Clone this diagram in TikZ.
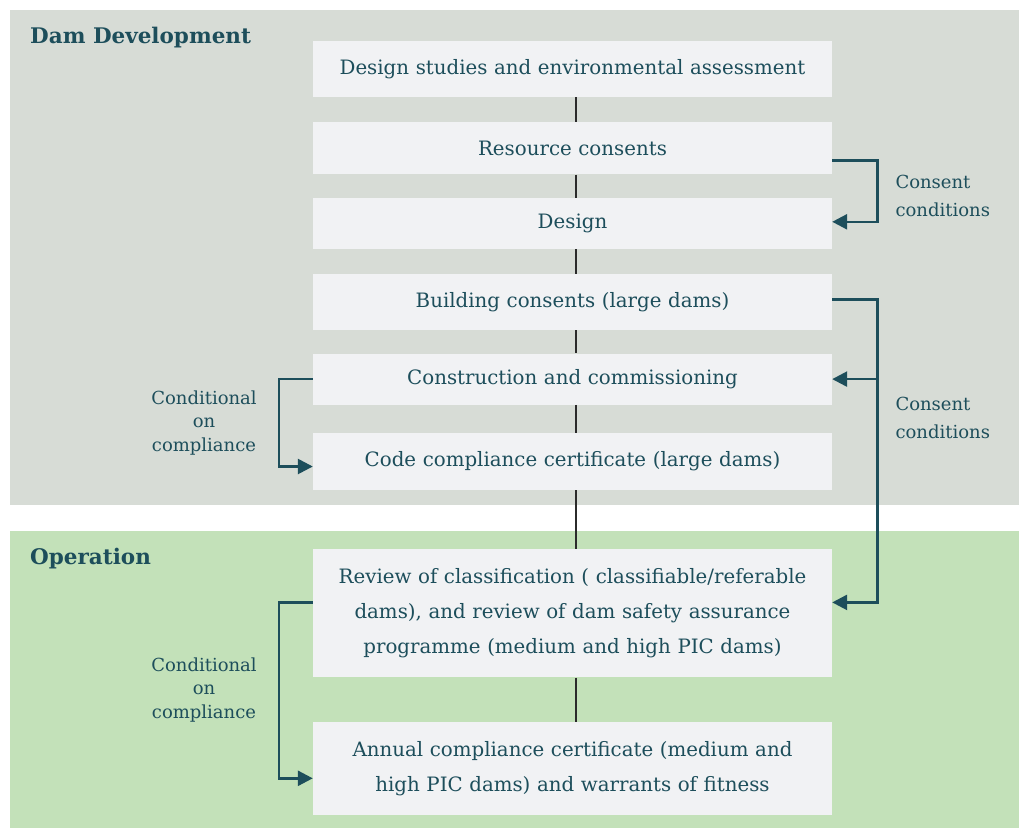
\documentclass[tikz,border=0pt]{standalone}
\usepackage{fontspec}
\setmainfont{DejaVu Serif}
\usetikzlibrary{positioning, arrows.meta, calc}
\definecolor{panelGrey}{HTML}{D7DCD6}
\definecolor{panelGreen}{HTML}{C3E1B9}
\definecolor{boxFill}{HTML}{F1F2F4}
\definecolor{inkTeal}{HTML}{1D4E5B}
\definecolor{stemGrey}{HTML}{2B2B2B}
\tikzstyle{arrow} = [line width=2.6pt, draw=inkTeal, ->, >={Triangle[length=15pt,width=15pt]}]
\tikzstyle{stem} = [line width=2pt, draw=stemGrey]
\tikzstyle{stage} = [rectangle, fill=boxFill, minimum width=519pt, text width=515pt, inner sep=0pt, align=center, text=inkTeal, font=\fontsize{19.8}{35}\selectfont]
\tikzstyle{sidenote} = [text=inkTeal, align=center, font=\fontsize{18}{23.5}\selectfont]
\tikzstyle{rightnote} = [text=inkTeal, align=left, anchor=west, font=\fontsize{18}{28}\selectfont]
\tikzstyle{paneltitle} = [text=inkTeal, anchor=west, inner sep=0pt, font=\bfseries\fontsize{21.5}{26}\selectfont]

\begin{document}
\begin{tikzpicture}[x=1pt, y=-1pt]
\useasboundingbox (0,0) rectangle (1019,828);
%----------------------------------------------------------------------------
% Background panels
\fill [panelGrey] (10,10) rectangle (1019,505);
\fill [panelGreen] (10,531) rectangle (1019,828);
\node (devTitle) [paneltitle] at (30,38) {Dam Development};
\node (opTitle) [paneltitle] at (30,559) {Operation};

%----------------------------------------------------------------------------
% Placement of stage boxes
\node (designStudies) [stage, minimum height=56pt] at (572.5,69) {Design studies and environmental assessment};
\node (resConsent) [stage, minimum height=52pt, below=25pt of designStudies] {Resource consents};
\node (design) [stage, minimum height=51pt, below=23pt of resConsent] {Design};
\node (buildConsent) [stage, minimum height=56pt, below=25pt of design] {Building consents (large dams)};
\node (construct) [stage, minimum height=51pt, below=23pt of buildConsent] {Construction and commissioning};
\node (codeCert) [stage, minimum height=57pt, below=28pt of construct] {Code compliance certificate (large dams)};

\node (reviewClass) [stage, minimum height=128pt, below=59pt of codeCert] {Review of classification ( classifiable/referable\\dams), and review of dam safety assurance\\programme (medium and high PIC dams)};
\node (annualCert) [stage, minimum height=93pt, below=44pt of reviewClass] {Annual compliance certificate (medium and\\high PIC dams) and warrants of fitness};

%----------------------------------------------------------------------------
% Drawing of lines of main chart
\draw [stem] ([xshift=3pt]designStudies.south) -- ([xshift=3pt]resConsent.north);
\draw [stem] ([xshift=3pt]resConsent.south) -- ([xshift=3pt]design.north);
\draw [stem] ([xshift=3pt]design.south) -- ([xshift=3pt]buildConsent.north);
\draw [stem] ([xshift=3pt]buildConsent.south) -- ([xshift=3pt]construct.north);
\draw [stem] ([xshift=3pt]construct.south) -- ([xshift=3pt]codeCert.north);
\draw [stem] ([xshift=3pt]codeCert.south) -- ([xshift=3pt]reviewClass.north);
\draw [stem] ([xshift=3pt]reviewClass.south) -- ([xshift=3pt]annualCert.north);

%----------------------------------------------------------------------------
% Consent condition lines
\draw [arrow] ([yshift=-12pt]resConsent.east) -- ++(45,0) |- ([yshift=1.5pt]design.east);
\draw [arrow] ([yshift=3pt]buildConsent.east) -- ++(45,0) coordinate (busTop) |- ([yshift=11pt]reviewClass.east);
\draw [arrow] (busTop |- construct.east) -- (construct.east);

\node (noteResource) [rightnote] at (892,196) {Consent\\conditions};
\node (noteBuild) [rightnote] at (892,418) {Consent\\conditions};

%----------------------------------------------------------------------------
% Compliance lines
\draw [arrow] (construct.west) -- ++(-34,0) |- ([yshift=-5pt]codeCert.west);
\draw [arrow] ([yshift=11pt]reviewClass.west) -- ++(-34,0) |- ([yshift=-10pt]annualCert.west);

\node (noteConstruct) [sidenote] at (204,423) {Conditional\\on\\compliance};
\node (noteReview) [sidenote] at (204,690) {Conditional\\on\\compliance};

\end{tikzpicture}
\end{document}
